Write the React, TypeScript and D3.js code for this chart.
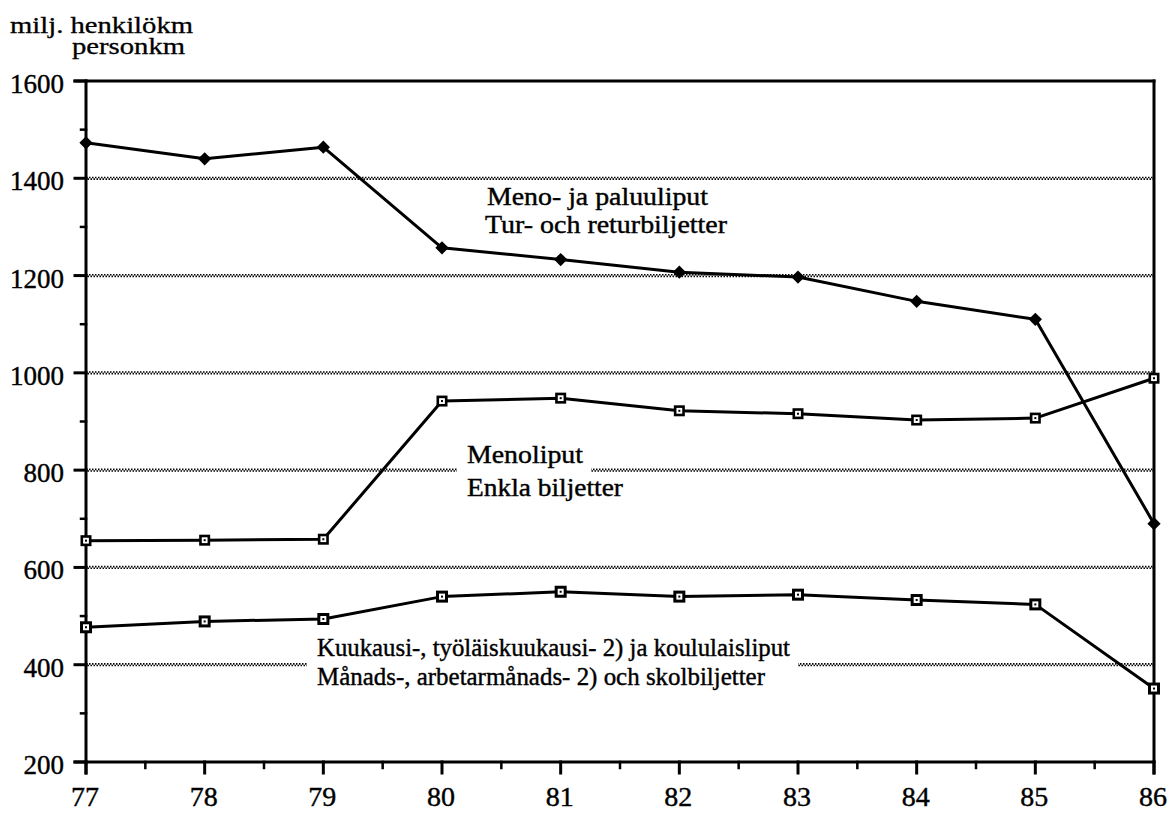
import React, { useEffect, useRef } from "react";
import * as d3 from "d3";

const years = [77, 78, 79, 80, 81, 82, 83, 84, 85, 86];
const returnTickets = [1473, 1440, 1464, 1257, 1233, 1207, 1197, 1147, 1110, 690];
const singleTickets = [655, 656, 658, 942, 948, 922, 916, 903, 907, 989];
const monthlyTickets = [477, 489, 494, 540, 550, 540, 544, 533, 524, 351];
const yTicks = [200, 400, 600, 800, 1000, 1200, 1400, 1600];
const yMinorTicks = [300, 500, 700, 900, 1100, 1300, 1500];
const xMinorTicks = [77.5, 78.5, 79.5, 80.5, 81.5, 82.5, 83.5, 84.5, 85.5];
const unitLines = ["milj. henkilökm", "personkm"];

const W = 1171;
const H = 813;
const FONT = "Liberation Serif, Times New Roman, Times, serif";

export default function App() {
  const ref = useRef<SVGSVGElement | null>(null);

  useEffect(() => {
    const svg = d3.select(ref.current);
    svg.selectAll("*").remove();

    const x = d3.scaleLinear().domain([77, 86]).range([86, 1154]);
    const y = d3.scaleLinear().domain([200, 1600]).range([762, 81]);

    const g = svg.append("g").style("font-family", FONT);

    // gridlines (wavy dotted)
    const grid = g.append("g");
    yTicks.filter((v) => v > 200 && v < 1600).forEach((v) => {
      grid.append("line").attr("x1", x(77)).attr("x2", x(86))
        .attr("y1", y(v) - 0.8).attr("y2", y(v) - 0.8)
        .attr("stroke", "#000").attr("stroke-width", 1.6).attr("stroke-dasharray", "1.5,1.5");
      grid.append("line").attr("x1", x(77)).attr("x2", x(86))
        .attr("y1", y(v) + 0.8).attr("y2", y(v) + 0.8)
        .attr("stroke", "#000").attr("stroke-width", 1.6).attr("stroke-dasharray", "1.5,1.5")
        .attr("stroke-dashoffset", 1.5);
    });

    // labels with white boxes
    const labelsG = g.append("g");
    type Lab = { text: string; x: number; y: number; w: number; box?: boolean };
    const labels: Lab[] = [
      { text: "Meno- ja paluuliput", x: 487, y: 205, w: 221 },
      { text: "Tur- och returbiljetter", x: 485, y: 233, w: 242 },
      { text: "Menoliput", x: 467, y: 463, w: 116, box: true },
      { text: "Enkla biljetter", x: 467, y: 496, w: 156 },
      { text: "Kuukausi-, työläiskuukausi- 2) ja koululaisliput", x: 317, y: 656, w: 473, box: true },
      { text: "Månads-, arbetarmånads- 2) och skolbiljetter", x: 317, y: 685, w: 448 },
    ];
    labels.forEach((l) => {
      if (l.box) {
        labelsG.append("rect").attr("x", l.x - 10).attr("y", l.y - 20)
          .attr("width", l.w + 18).attr("height", 34).attr("fill", "#fff");
      }
    });
    labels.forEach((l) => {
      labelsG.append("text").attr("x", l.x).attr("y", l.y)
        .style("font-family", FONT).style("font-size", "25px")
        .attr("textLength", l.w).attr("lengthAdjust", "spacingAndGlyphs")
        .attr("fill", "#000").attr("stroke", "#000").attr("stroke-width", 0.4)
        .text(l.text);
    });

    // frame and axes
    const axes = g.append("g").attr("stroke", "#000").attr("stroke-linecap", "square");
    axes.append("line").attr("x1", x(77) - 11).attr("x2", x(86)).attr("y1", y(1600)).attr("y2", y(1600)).attr("stroke-width", 3);
    axes.append("line").attr("x1", x(77)).attr("x2", x(77)).attr("y1", y(1600)).attr("y2", y(200) + 11).attr("stroke-width", 3);
    axes.append("line").attr("x1", x(86)).attr("x2", x(86)).attr("y1", y(1600)).attr("y2", y(200) + 11).attr("stroke-width", 3);
    axes.append("line").attr("x1", x(77) - 11).attr("x2", x(86)).attr("y1", y(200)).attr("y2", y(200)).attr("stroke-width", 3);

    axes.selectAll(".ymaj").data(yTicks).enter().append("line")
      .attr("x1", x(77) - 11).attr("x2", x(77)).attr("y1", (d) => y(d)).attr("y2", (d) => y(d)).attr("stroke-width", 3);
    axes.selectAll(".ymin").data(yMinorTicks).enter().append("line")
      .attr("x1", x(77) - 5).attr("x2", x(77)).attr("y1", (d) => y(d)).attr("y2", (d) => y(d)).attr("stroke-width", 2.5);
    axes.selectAll(".xmaj").data(years).enter().append("line")
      .attr("x1", (d) => x(d)).attr("x2", (d) => x(d)).attr("y1", y(200)).attr("y2", y(200) + 11).attr("stroke-width", 3);
    axes.selectAll(".xmin").data(xMinorTicks).enter().append("line")
      .attr("x1", (d) => x(d)).attr("x2", (d) => x(d)).attr("y1", y(200)).attr("y2", y(200) + 6).attr("stroke-width", 2.5);

    // tick labels
    g.append("g").selectAll("text").data(yTicks).enter().append("text")
      .attr("x", 64).attr("y", (d) => y(d) + 12).attr("text-anchor", "end")
      .attr("stroke", "#000").attr("stroke-width", 0.4)
      .style("font-family", FONT).style("font-size", "27px").text((d) => String(d));
    g.append("g").selectAll("text").data(years).enter().append("text")
      .attr("x", (d) => x(d) - 1).attr("y", 806).attr("text-anchor", "middle")
      .attr("stroke", "#000").attr("stroke-width", 0.4)
      .style("font-family", FONT).style("font-size", "28px").text((d) => String(d));

    // unit label
    g.append("text").attr("x", 10).attr("y", 33).style("font-family", FONT).style("font-size", "23px")
      .attr("stroke", "#000").attr("stroke-width", 0.3)
      .attr("textLength", 183).attr("lengthAdjust", "spacingAndGlyphs").text(unitLines[0]);
    g.append("text").attr("x", 72).attr("y", 54).style("font-family", FONT).style("font-size", "23px")
      .attr("stroke", "#000").attr("stroke-width", 0.3)
      .attr("textLength", 113).attr("lengthAdjust", "spacingAndGlyphs").text(unitLines[1]);

    // series
    const line = d3.line<number>().x((_, i) => x(years[i])).y((d) => y(d));
    const seriesG = g.append("g");
    [returnTickets, singleTickets, monthlyTickets].forEach((s) => {
      seriesG.append("path").attr("d", line(s) as string).attr("fill", "none")
        .attr("stroke", "#000").attr("stroke-width", 3).attr("stroke-linejoin", "round");
    });

    const diamond = d3.symbol().type(d3.symbolSquare).size(88)();
    seriesG.selectAll(".dia").data(returnTickets).enter().append("path")
      .attr("d", diamond as string)
      .attr("transform", (d, i) => `translate(${x(years[i])},${y(d)}) rotate(45)`)
      .attr("fill", "#000");

    const squares = (data: number[], outer: number, sw: number) => {
      const inner = outer - sw;
      seriesG.append("g").selectAll("rect").data(data).enter().append("rect")
        .attr("x", (d, i) => x(years[i]) - inner / 2).attr("y", (d) => y(d) - inner / 2)
        .attr("width", inner).attr("height", inner)
        .attr("fill", "#fff").attr("stroke", "#000").attr("stroke-width", sw);
      seriesG.append("g").selectAll("rect").data(data).enter().append("rect")
        .attr("x", (d, i) => x(years[i]) - 1).attr("y", (d) => y(d) - 1)
        .attr("width", 2).attr("height", 2).attr("fill", "#000");
    };
    squares(singleTickets, 11, 2.6);
    squares(monthlyTickets, 12, 3);
  }, []);

  return (
    <svg ref={ref} width={W} height={H}
      style={{ position: "absolute", left: 0, top: 0, background: "#fff" }} />
  );
}
